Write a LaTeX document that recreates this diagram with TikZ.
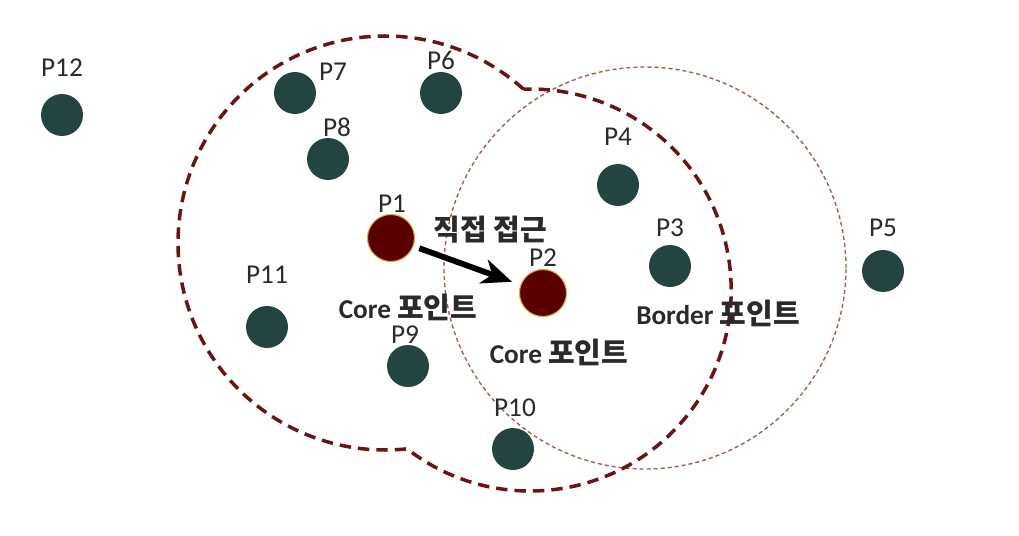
\documentclass[tikz,border=0pt]{standalone}
\usepackage{fontspec}
\setmainfont{Carlito}
\newfontfamily\kr{Noto Sans CJK KR}
\usetikzlibrary{arrows.meta,calc}
\definecolor{dotgrey}{HTML}{234440}
\definecolor{dotred}{HTML}{5A0000}
\definecolor{rimyellow}{HTML}{E0A840}
\definecolor{edgered}{HTML}{6B1414}
\definecolor{edgebrown}{HTML}{9A6450}
\definecolor{inkgrey}{HTML}{2A2A2A}
\tikzset{
pt/.style={circle,fill=dotgrey,minimum size=8.4mm,inner sep=0pt},
corept/.style={circle,fill=dotred,draw=rimyellow,line width=0.6pt,minimum size=9.4mm,inner sep=0pt},
tag/.style={font=\fontsize{15.5}{18}\selectfont,text=inkgrey,inner sep=0pt},
note/.style={font=\fontsize{15.5}{18}\selectfont\bfseries,text=inkgrey,inner sep=0pt},
coreedge/.style={draw=edgered,line width=2pt,dash pattern=on 6.5pt off 4pt},
reachedge/.style={draw=edgebrown,line width=0.8pt,dash pattern=on 2.3pt off 1.7pt},
reach/.style={-{Stealth[length=6mm,width=5mm,inset=1.8mm]},line width=3.3pt,black,shorten <=1.2mm,shorten >=1.8mm}
}

\begin{document}
\begin{tikzpicture}
\useasboundingbox (0,0) rectangle (20.38,10.70);
\draw[reachedge] (12.90,5.34) circle (4.02);
\coordinate (c1) at (7.70,5.84);
\coordinate (c2) at (10.60,4.90);
\draw[coreedge] ($(c1)+(48:4.14)$) arc[start angle=48,end angle=276.1,radius=4.14]
  arc[start angle=-127.8,end angle=91.9,radius=4.02] -- cycle;

\node[pt] (p12) at (1.24,8.40) {};
\node[pt] (p7) at (5.90,8.84) {};
\node[pt] (p6) at (8.82,8.84) {};
\node[pt] (p8) at (6.56,7.52) {};
\node[pt] (p4) at (12.36,7.00) {};
\node[pt] (p3) at (13.40,5.38) {};
\node[pt] (p5) at (17.66,5.28) {};
\node[pt] (p11) at (5.34,4.16) {};
\node[pt] (p9) at (8.16,3.38) {};
\node[pt] (p10) at (10.26,1.72) {};
\node[corept] (p1) at (7.82,5.94) {};
\node[corept] (p2) at (10.86,4.84) {};

\node[tag] (t12) at (1.24,9.34) {P12};
\node[tag] (t7) at (6.66,9.26) {P7};
\node[tag] (t6) at (8.82,9.50) {P6};
\node[tag] (t8) at (6.74,8.16) {P8};
\node[tag] (t4) at (12.36,7.96) {P4};
\node[tag] (t1) at (7.84,6.62) {P1};
\node[tag] (t2) at (10.86,5.54) {P2};
\node[tag] (t3) at (13.40,6.14) {P3};
\node[tag] (t5) at (17.66,6.14) {P5};
\node[tag] (t11) at (5.34,5.20) {P11};
\node[tag] (t9) at (8.10,4.00) {P9};
\node[tag] (t10) at (10.30,2.54) {P10};

\draw[reach] (p1) -- (p2);

\node[note] (direct) at (9.80,6.10) {\kr\fontsize{16.5}{18}\selectfont 직접 접근};
\node[note] (core1) at (8.16,4.56) {Core {\kr\fontsize{16.5}{18}\selectfont 포인트}};
\node[note] (core2) at (11.18,3.66) {Core {\kr\fontsize{16.5}{18}\selectfont 포인트}};
\node[note] (border) at (14.36,4.44) {Border {\kr\fontsize{16.5}{18}\selectfont 포인트}};
\end{tikzpicture}
\end{document}
